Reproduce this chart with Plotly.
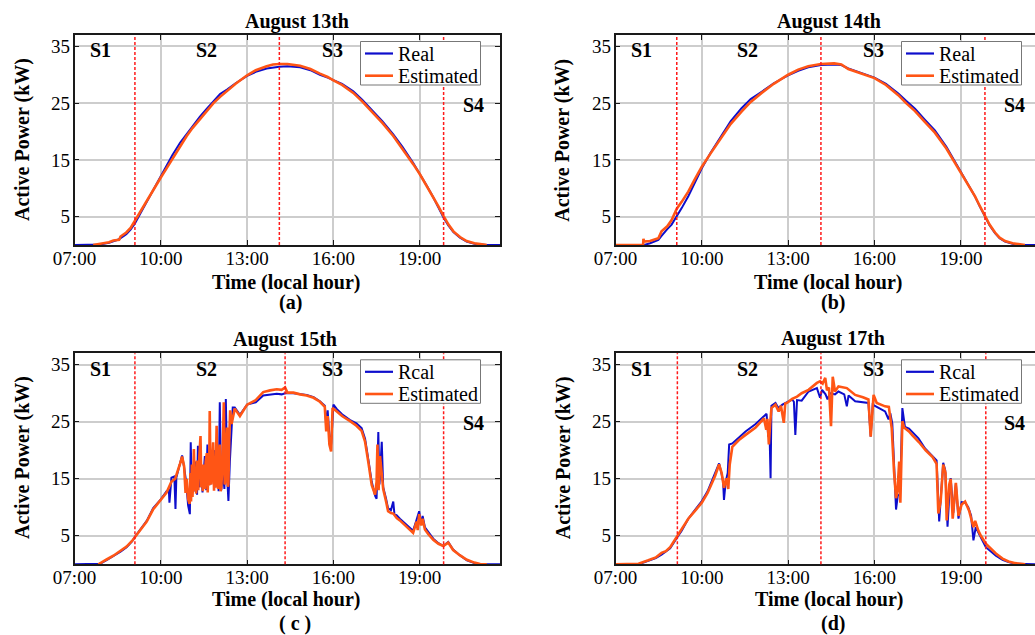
import plotly.graph_objects as go

W, H = 1035, 635

# ---------------- data (time in decimal hours, active power in kW) ----------------
TICK_HOURS = [7, 10, 13, 16, 19]
TICK_LABELS = ["07:00", "10:00", "13:00", "16:00", "19:00"]
POWER_TICKS = [5, 15, 25, 35]
STAGES = ["S1", "S2", "S3", "S4"]

# August 13th
T_AUG13 = [7.0, 7.65, 7.9, 8.2, 8.35, 8.55, 8.6, 8.8, 8.95, 9.1, 9.25, 9.4, 9.6, 9.8,
           10.0, 10.2, 10.4, 10.67, 10.9, 11.1, 11.36, 11.6, 11.83, 12.06, 12.3, 12.6,
           13.0, 13.3, 13.68, 13.9, 14.12, 14.4, 14.84, 15.2, 15.53, 15.8, 16.0, 16.3,
           16.69, 17.0, 17.39, 17.7, 18.08, 18.4, 18.78, 19.0, 19.25, 19.47, 19.65,
           19.83, 20.0, 20.17, 20.4, 20.63, 20.9, 21.1, 21.33, 21.8]
REAL_AUG13 = [0, 0, 0.1, 0.4, 0.6, 1.0, 1.2, 1.9, 2.7, 3.8, 5.2, 6.6, 8.5, 10.4,
              12.3, 14.0, 15.8, 18.0, 19.6, 21.0, 22.6, 24.0, 25.3, 26.6, 27.4, 28.5,
              29.8, 30.5, 31.1, 31.3, 31.4, 31.5, 31.3, 30.8, 30.0, 29.5, 29.1, 28.4,
              27.1, 25.6, 23.5, 21.8, 19.5, 17.3, 14.4, 12.6, 10.4, 8.4, 6.6,
              4.8, 3.4, 2.3, 1.3, 0.6, 0.2, 0.05, 0, 0]
EST_AUG13 = [None, 0, 0.2, 0.5, 0.8, 0.9, 1.5, 2.2, 3.0, 4.3, 5.5, 6.8, 8.4, 10.1,
             11.9, 13.5, 15.2, 17.5, 19.2, 20.6, 22.1, 23.6, 25.0, 26.1, 27.2, 28.4,
             29.9, 30.8, 31.5, 31.8, 31.9, 31.9, 31.6, 31.0, 30.2, 29.6, 29.0, 28.2,
             26.8, 25.3, 23.2, 21.5, 19.2, 17.0, 14.2, 12.5, 10.4, 8.5, 6.8,
             5.1, 3.6, 2.4, 1.4, 0.7, 0.3, 0.15, 0, None]
BOUNDS_AUG13 = [9.10, 14.12, 19.83]

# August 14th
T_AUG14 = [7.0, 7.96, 7.97, 8.0, 8.2, 8.49, 8.6, 8.66, 8.8, 8.95, 9.13, 9.3, 9.53, 9.75,
           10.0, 10.3, 10.69, 11.0, 11.38, 11.7, 12.08, 12.5, 13.0, 13.35, 13.7, 14.14,
           14.6, 14.85, 15.09, 15.5, 16.0, 16.4, 16.83, 17.1, 17.41, 17.75, 18.1, 18.5,
           19.0, 19.25, 19.49, 19.65, 19.84, 20.0, 20.19, 20.35, 20.54, 20.8, 21.0,
           21.23, 21.8]
REAL_AUG14 = [None, None, 0, 0, 0.3, 0.9, 1.6, 2.0, 2.8, 3.6, 5.0, 6.5, 8.6, 11.0,
              13.5, 16.2, 19.3, 21.8, 24.1, 25.7, 27.0, 28.5, 29.9, 30.7, 31.3, 31.7,
              31.8, 31.7, 31.1, 30.4, 29.5, 28.4, 26.7, 25.4, 24.0, 22.1, 20.2, 17.3,
              13.0, 10.7, 8.6, 6.9, 4.9, 3.5, 2.1, 1.2, 0.6, 0.2, 0.05,
              0, 0]
EST_AUG14 = [0, 0, 1.1, 0.6, 0.7, 1.2, 2.4, 2.7, 3.3, 4.4, 6.4, 7.6, 9.4, 11.5,
             13.8, 16.1, 19.0, 21.3, 23.5, 25.2, 26.8, 28.4, 30.0, 30.9, 31.5, 31.9,
             32.0, 31.8, 31.0, 30.3, 29.4, 28.2, 26.4, 25.0, 23.6, 21.7, 19.8, 17.0,
             12.8, 10.6, 8.6, 7.0, 5.0, 3.6, 2.2, 1.3, 0.7, 0.3, 0.15,
             0, None]
BOUNDS_AUG14 = [9.13, 14.14, 19.84]

# August 15th
T_AUG15_REAL = [7.0, 7.83, 7.89, 8.1, 8.35, 8.6, 8.81, 9.0, 9.1, 9.3, 9.51, 9.73,
                10.0, 10.2, 10.28, 10.3, 10.33, 10.37, 10.47, 10.51, 10.54, 10.66, 10.74,
                10.81, 10.88, 10.95, 11.01, 11.04, 11.08, 11.13, 11.18, 11.22, 11.26,
                11.29, 11.34, 11.4, 11.45, 11.49, 11.53, 11.58, 11.62, 11.66, 11.73,
                11.78, 11.85, 11.9, 11.96, 12.01, 12.05, 12.1, 12.16, 12.21,
                12.26, 12.31, 12.35, 12.4, 12.46, 12.5, 12.57, 12.75,
                13.0, 13.3, 13.56, 13.8, 14.03, 14.2, 14.32, 14.61, 14.84, 15.07, 15.31,
                15.53, 15.7, 15.75, 15.8, 15.86, 15.92, 16.0, 16.12, 16.3, 16.58, 16.8,
                16.98, 17.1, 17.21, 17.33, 17.45, 17.5, 17.56, 17.6, 17.68, 17.73, 17.83,
                17.9, 18.0, 18.08, 18.12, 18.2, 18.31, 18.54, 18.77, 18.89, 18.98, 19.05,
                19.1, 19.18, 19.3, 19.47, 19.65, 19.82, 19.99, 20.16, 20.39, 20.64, 20.9,
                21.1, 21.79]
REAL_AUG15 = [0, 0, 0.1, 0.7, 1.4, 2.2, 3.0, 4.0, 4.8, 6.1, 7.6, 9.8,
              11.4, 12.8, 13.0, 10.8, 13.3, 15.2, 15.4, 9.7, 15.2, 17.7, 19.1,
              17.0, 14.5, 10.3, 8.8, 21.4, 12.5, 15.5, 12.8, 18.0, 12.2,
              20.8, 13.5, 17.0, 12.6, 16.0, 19.0, 13.0, 21.0, 16.5, 14.0,
              19.5, 20.0, 13.5, 17.5, 12.8, 28.4, 13.0, 16.0, 13.2,
              29.0, 15.0, 11.1, 18.0, 24.6, 27.5, 27.5, 26.2,
              28.0, 28.4, 29.6, 29.7, 29.9, 29.8, 30.0, 30.0, 29.8, 29.7, 29.3,
              28.6, 27.8, 24.5, 27.0, 22.4, 21.0, 28.0, 27.2, 26.3, 25.3, 24.7,
              23.9, 22.0, 18.5, 14.5, 12.0, 11.5, 23.2, 14.0, 21.5, 13.5, 11.5,
              9.8, 9.5, 11.0, 8.8, 8.6, 8.0, 6.9, 5.9, 7.8, 9.3, 7.0,
              8.5, 6.5, 5.6, 4.5, 3.7, 3.2, 3.9, 2.6, 1.6, 0.7, 0.2,
              0.0, 0.0]
T_AUG15_EST = [7.83, 7.89, 8.1, 8.35, 8.6, 8.81, 9.0, 9.1, 9.3, 9.51, 9.73,
               10.0, 10.2, 10.37, 10.5, 10.66, 10.74, 10.81, 10.86, 10.9, 10.95, 11.0,
               11.03, 11.05, 11.08, 11.1, 11.13, 11.15, 11.18, 11.2, 11.23, 11.26, 11.28,
               11.3, 11.34, 11.38, 11.41, 11.43, 11.46, 11.48, 11.51, 11.53, 11.56, 11.6,
               11.63, 11.65, 11.68, 11.7, 11.73, 11.75, 11.79, 11.82, 11.85, 11.87, 11.9,
               11.94, 11.97, 11.99, 12.02, 12.05, 12.08, 12.1, 12.14, 12.19, 12.22, 12.24,
               12.27, 12.3, 12.33, 12.35, 12.38, 12.41, 12.46, 12.57, 12.75,
               13.0, 13.3, 13.56, 13.8, 14.03, 14.2, 14.32, 14.4, 14.61, 14.84, 15.07,
               15.31, 15.53, 15.7, 15.75, 15.8, 15.86, 15.92, 15.97, 16.12, 16.3, 16.58,
               16.8, 16.98, 17.1, 17.21, 17.33, 17.45, 17.5, 17.53, 17.57, 17.62, 17.68,
               17.73, 17.83, 17.9, 18.0, 18.08, 18.2, 18.31, 18.54, 18.77, 18.89, 18.93,
               18.98, 19.05, 19.1, 19.18, 19.3, 19.47, 19.65, 19.82, 19.99, 20.16, 20.39,
               20.64, 20.9, 21.1, 21.33]
EST_AUG15 = [0.0, 0.2, 0.8, 1.5, 2.3, 3.1, 4.1, 4.8, 6.0, 7.5, 9.6,
             11.3, 12.6, 14.5, 15.0, 17.5, 18.9, 17.2, 12.5, 15.0, 11.4, 10.6,
             16.0, 11.0, 17.5, 11.8, 15.0, 20.2, 12.8, 16.5, 12.4, 18.2, 14.5,
             13.0, 19.0, 22.5, 13.5, 17.0, 12.8, 17.5, 14.0, 13.2, 18.0, 19.5,
             12.6, 16.0, 13.8, 26.9, 14.5, 14.0, 18.0, 21.4, 12.9, 16.5, 13.5,
             24.3, 15.0, 13.2, 19.0, 21.0, 12.8, 13.4, 17.0, 28.4, 14.0, 14.5,
             20.0, 24.0, 13.6, 14.0, 22.0, 27.0, 24.6, 27.3, 26.0,
             28.0, 28.8, 30.2, 30.5, 30.7, 30.6, 31.0, 30.1, 30.1, 29.8, 29.6,
             29.2, 28.5, 27.6, 23.3, 26.0, 21.0, 19.8, 27.4, 26.8, 26.0, 25.1,
             24.3, 23.4, 21.5, 18.0, 13.9, 12.2, 14.5, 21.0, 13.0, 19.0, 15.0,
             13.2, 11.0, 9.3, 9.0, 8.9, 8.1, 7.7, 6.6, 5.5, 7.5, 6.0,
             8.8, 6.8, 8.0, 6.1, 5.3, 4.3, 3.6, 3.2, 3.8, 2.5, 1.6,
             0.8, 0.3, 0.05, 0.0]
BOUNDS_AUG15 = [9.10, 14.32, 19.83]

# August 17th
T_AUG17_REAL = [7.8, 8.14, 8.4, 8.6, 8.9, 9.13, 9.3, 9.53, 9.8, 10.0, 10.2, 10.46, 10.6,
                10.69, 10.74, 10.77, 10.83, 10.9, 10.95, 11.06, 11.29, 11.52, 11.87, 12.16,
                12.25, 12.31, 12.35, 12.39, 12.42, 12.56, 12.66, 12.8, 12.96, 13.14, 13.2,
                13.25, 13.31, 13.47, 13.71, 14.0, 14.11, 14.18, 14.3, 14.37, 14.45, 14.63,
                14.75, 14.95, 15.04, 15.1, 15.33, 15.79, 15.87, 15.94, 16.08, 16.37, 16.49,
                16.55, 16.62, 16.7, 16.75, 16.81, 16.89, 16.97, 17.06, 17.2, 17.3, 17.53,
                17.76, 18.05, 18.16, 18.25, 18.32, 18.39, 18.46, 18.54, 18.6, 18.65, 18.74,
                18.83, 18.92, 19.03, 19.15, 19.26, 19.36, 19.44, 19.52, 19.61, 19.7, 19.87,
                20.04, 20.22, 20.45, 20.66, 20.9, 21.24, 21.6]
REAL_AUG17 = [0, 0.6, 1.1, 1.7, 2.8, 4.6, 5.9, 8.0, 9.8, 11.1, 12.8, 15.8, 17.7,
              15.8, 14.5, 11.3, 14.5, 16.0, 21.0, 21.2, 22.3, 23.3, 24.6, 26.0,
              26.4, 22.4, 24.0, 15.1, 27.8, 28.3, 27.4, 28.0, 28.4, 28.9, 28.5,
              22.7, 28.8, 28.7, 30.3, 30.9, 29.2, 30.6, 29.8, 28.9, 30.0, 29.8,
              30.3, 29.8, 27.7, 29.6, 28.6, 28.3, 22.4, 28.0, 27.6, 26.8, 25.4,
              26.5, 24.7, 15.9, 9.6, 12.0, 12.4, 27.4, 24.1, 23.8, 23.3, 22.1,
              20.3, 18.8, 18.2, 7.5, 12.0, 17.8, 16.5, 6.6, 12.0, 15.1, 9.0,
              14.2, 8.0, 10.9, 10.8, 10.0, 8.5, 4.2, 6.5, 5.5, 4.7, 3.0,
              2.3, 1.5, 0.8, 0.4, 0.1, 0.0, 0.0]
T_AUG17_EST = [7.0, 7.8, 8.14, 8.4, 8.6, 8.75, 8.9, 9.13, 9.3, 9.53, 9.8, 10.0, 10.2, 10.46,
               10.6, 10.69, 10.77, 10.85, 10.92, 10.97, 11.06, 11.29, 11.52, 11.87, 12.16,
               12.24, 12.28, 12.33, 12.38, 12.42, 12.56, 12.67, 12.75, 12.85, 12.9, 12.96,
               13.14, 13.31, 13.47, 13.71, 14.0, 14.11, 14.2, 14.29, 14.35, 14.42, 14.49,
               14.55, 14.63, 14.75, 15.04, 15.33, 15.6, 15.79, 15.87, 15.97, 16.08, 16.37,
               16.5, 16.6, 16.68, 16.75, 16.8, 16.86, 16.9, 16.97, 17.03, 17.2, 17.32,
               17.55, 17.78, 18.02, 18.16, 18.22, 18.3, 18.39, 18.47, 18.51, 18.6, 18.65,
               18.72, 18.83, 18.92, 19.03, 19.15, 19.29, 19.44, 19.5, 19.61, 19.7, 19.87,
               20.04, 20.22, 20.45, 20.66, 20.9, 21.24]
EST_AUG17 = [0, 0.1, 0.7, 1.2, 2.0, 2.3, 3.0, 4.8, 6.0, 8.0, 9.6, 10.8, 12.5, 15.5,
             17.5, 16.0, 13.4, 15.1, 13.2, 17.5, 20.6, 21.8, 22.7, 24.0, 25.6,
             23.6, 25.5, 21.0, 25.0, 27.4, 28.0, 26.8, 27.8, 24.8, 28.2, 28.3,
             29.0, 29.4, 30.0, 30.6, 31.8, 32.1, 31.7, 32.7, 30.5, 31.0, 24.2,
             32.9, 30.3, 31.2, 30.9, 29.7, 29.3, 28.9, 22.4, 29.7, 28.3, 27.7,
             27.6, 23.9, 16.3, 11.6, 12.8, 18.0, 10.8, 25.1, 24.0, 23.3, 22.6,
             21.4, 20.0, 18.8, 17.6, 8.9, 11.0, 17.5, 16.0, 7.7, 14.0, 15.0,
             8.0, 14.3, 8.5, 10.5, 11.0, 9.4, 6.5, 7.6, 5.9, 5.0, 3.6,
             2.8, 1.9, 1.0, 0.5, 0.2, 0.0]
BOUNDS_AUG17 = [9.15, 14.14, 19.87]

# ---------------- styling ----------------
SERIF = "Liberation Serif"
BLUE = "#0d0dcc"
ORANGE = "#ff5515"
GRID = "#cdcdcd"
AXIS = "#1a1a1a"
STAGE_RED = "#ff1a1a"

# plot-area boxes in pixels: left, top, right, bottom
panels = [
    dict(box=(74.5, 35, 500, 245), xr=[7, 21.79], mirror_y="ticks",
         t=T_AUG13, real=REAL_AUG13, t_est=T_AUG13, est=EST_AUG13, bounds=BOUNDS_AUG13,
         title="August 13th", title_xy=(296.5, 21.5), xlab_xy=(286.7, 282),
         sub="(a)", sub_xy=(290, 303), ylab_xy=(22, 140), real_name="Real"),
    dict(box=(615.5, 35, 1035, 245), xr=[7, 21.58], mirror_y=False,
         t=T_AUG14, real=REAL_AUG14, t_est=T_AUG14, est=EST_AUG14, bounds=BOUNDS_AUG14,
         title="August 14th", title_xy=(829, 21.5), xlab_xy=(828.3, 282),
         sub="(b)", sub_xy=(833, 303), ylab_xy=(561.7, 140), real_name="Real"),
    dict(box=(74.5, 353.3, 500, 564.3), xr=[7, 21.79], mirror_y="ticks",
         t=T_AUG15_REAL, real=REAL_AUG15, t_est=T_AUG15_EST, est=EST_AUG15,
         bounds=BOUNDS_AUG15,
         title="August 15th", title_xy=(285, 339), xlab_xy=(286.7, 599),
         sub="( c )", sub_xy=(295, 623), ylab_xy=(22, 458), real_name="Rcal"),
    dict(box=(615.5, 353.3, 1035, 564.3), xr=[7, 21.58], mirror_y=False,
         t=T_AUG17_REAL, real=REAL_AUG17, t_est=T_AUG17_EST, est=EST_AUG17,
         bounds=BOUNDS_AUG17,
         title="August 17th", title_xy=(833.3, 338.5), xlab_xy=(829, 599),
         sub="(d)", sub_xy=(833, 623), ylab_xy=(563.3, 458), real_name="Rcal"),
]

# stage label positions (hour, kW)
STAGE_POS = [(7.92, 34.3), (11.6, 34.3), (15.97, 34.3), (20.87, 24.7)]


def px(x, y):
    return x / W, 1 - y / H


fig = go.Figure()
shapes, annotations = [], []

for i, p in enumerate(panels):
    n = "" if i == 0 else str(i + 1)
    xa, ya = "x" + n, "y" + n
    left, top, right, bottom = p["box"]

    fig.add_trace(go.Scatter(x=p["t"], y=p["real"], mode="lines", name=p["real_name"],
                             line=dict(color=BLUE, width=2), xaxis=xa, yaxis=ya,
                             showlegend=False))
    fig.add_trace(go.Scatter(x=p["t_est"], y=p["est"], mode="lines", name="Estimated",
                             line=dict(color=ORANGE, width=2.6), xaxis=xa, yaxis=ya,
                             showlegend=False))

    common = dict(showgrid=True, gridcolor=GRID, gridwidth=1.5, showline=True,
                  linecolor=AXIS, linewidth=1.5, ticks="inside", ticklen=5,
                  tickcolor=AXIS, tickwidth=1.2, zeroline=False, automargin=False,
                  tickfont=dict(family=SERIF, size=19, color="black"))
    fig.update_layout(**{
        "xaxis" + n: dict(domain=[left / W, right / W], anchor=ya, range=p["xr"],
                          tickvals=TICK_HOURS, ticktext=TICK_LABELS, mirror="ticks",
                          ticklabelstandoff=-5, **common),
        "yaxis" + n: dict(domain=[1 - bottom / H, 1 - top / H], anchor=xa,
                          range=[0, 37], tickvals=POWER_TICKS, mirror=p["mirror_y"],
                          ticklabelstandoff=-1, **common),
    })

    # stage boundaries
    for b in p["bounds"]:
        shapes.append(dict(type="line", xref=xa, yref=ya + " domain", x0=b, x1=b,
                           y0=0, y1=1, line=dict(color=STAGE_RED, width=1.5,
                                                 dash="3px,2px")))
    # stage labels
    for s, (sx, sy) in zip(STAGES, STAGE_POS):
        annotations.append(dict(xref=xa, yref=ya, x=sx, y=sy, text="<b>%s</b>" % s,
                                showarrow=False, font=dict(family=SERIF, size=20,
                                                           color="black")))

    # texts around the panel
    for txt, (tx, ty), angle in [("<b>%s</b>" % p["title"], p["title_xy"], 0),
                                 ("<b>Time (local hour)</b>", p["xlab_xy"], 0),
                                 ("<b>%s</b>" % p["sub"], p["sub_xy"], 0),
                                 ("<b>Active Power (kW)</b>", p["ylab_xy"], -90)]:
        ax_, ay_ = px(tx, ty)
        annotations.append(dict(xref="paper", yref="paper", x=ax_, y=ay_, text=txt,
                                showarrow=False, textangle=angle, xanchor="center",
                                yanchor="middle",
                                font=dict(family=SERIF, size=20, color="black")))

    # legend box
    bx0, by0 = px(left + 286, top + 6.5)
    bx1, by1 = px(left + 406, top + 50)
    shapes.append(dict(type="rect", xref="paper", yref="paper", x0=bx0, x1=bx1,
                       y0=by1, y1=by0, fillcolor="white",
                       line=dict(color="#777777", width=1)))
    for name, color, width, dy in [(p["real_name"], BLUE, 2.2, 18.5),
                                   ("Estimated", ORANGE, 2.6, 40.7)]:
        lx0, ly = px(left + 290.5, top + dy)
        lx1, _ = px(left + 318.5, top + dy)
        shapes.append(dict(type="line", xref="paper", yref="paper", x0=lx0, x1=lx1,
                           y0=ly, y1=ly, line=dict(color=color, width=width)))
        tx, _ = px(left + 321, top + dy)
        annotations.append(dict(xref="paper", yref="paper", x=tx, y=ly, text=name,
                                showarrow=False, xanchor="left", yanchor="middle",
                                font=dict(family=SERIF, size=20, color="black")))

fig.update_layout(width=W, height=H, margin=dict(l=0, r=0, t=0, b=0, autoexpand=False),
                  paper_bgcolor="white", plot_bgcolor="white",
                  shapes=shapes, annotations=annotations, showlegend=False)

fig.write_html("out.html")
